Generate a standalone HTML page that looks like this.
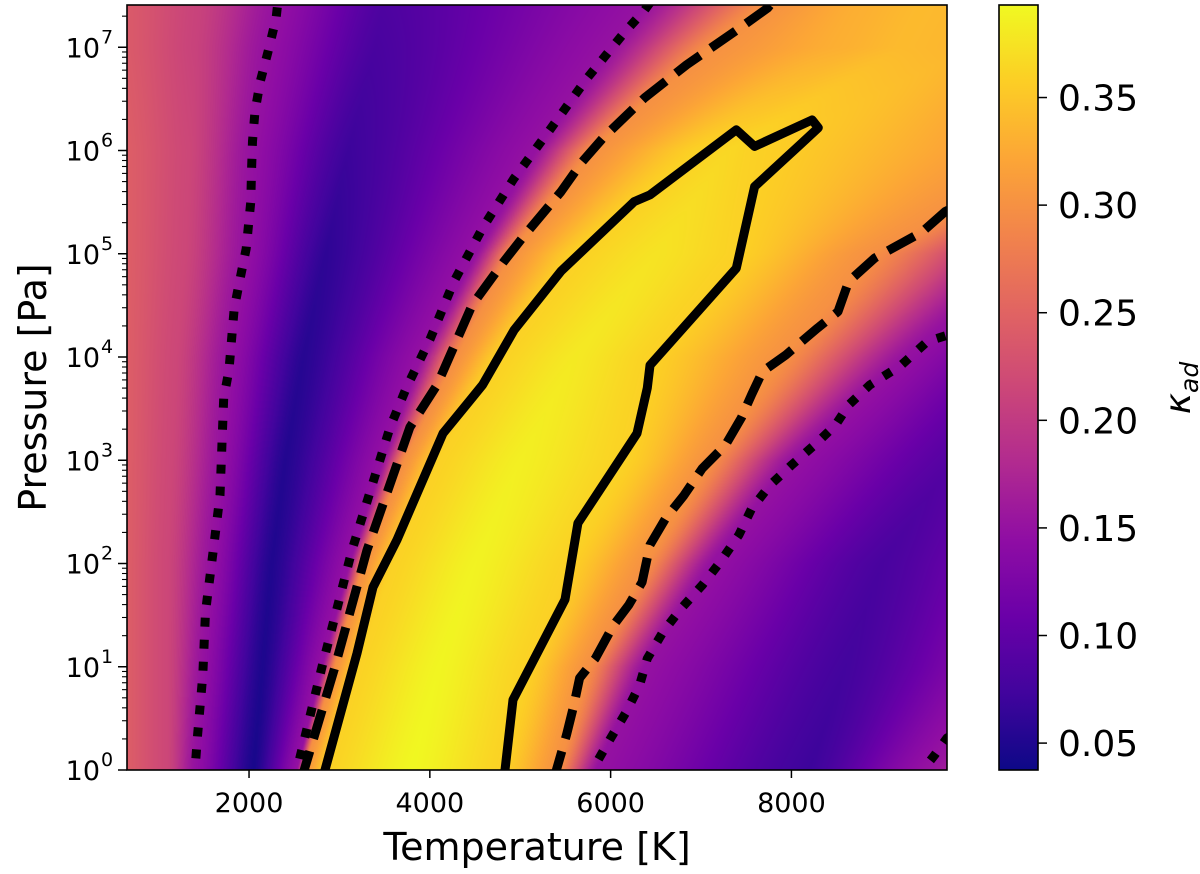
<!DOCTYPE html>
<html>
<head>
<meta charset="utf-8">
<style>
  html,body{margin:0;padding:0;background:#fff;}
  #wrap{position:relative;width:1200px;height:874px;overflow:hidden;font-family:"DejaVu Sans","Liberation Sans",sans-serif;}
  #heat{position:absolute;left:127px;top:5px;}
  #ov{position:absolute;left:0;top:0;}
</style>
</head>
<body>
<div id="wrap">
<canvas id="heat" width="820" height="765"></canvas>
<svg id="ov" width="1200" height="874" xmlns="http://www.w3.org/2000/svg"></svg>
</div>
<script>
// ---- heatmap data: per pressure row, knot temperatures and kappa values ----
const logPRows = [0, 1, 2, 3, 4, 5, 6, 7, 7.5];
const knotT = [
  [600,1100,1400,2050,2530,2610,2848,3800,4815,5422,5840,8200,9470,10000],
  [600,1100,1490,2150,2807,2951,3190,4100,5100,5750,6370,8600,10400,11000],
  [600,1100,1590,2250,3110,3270,3580,4500,5550,6400,7100,9000,11000,12000],
  [600,1150,1700,2400,3480,3720,4080,5000,6200,7100,8000,9800,11500,12500],
  [600,1200,1790,2600,3900,4300,4760,5600,6480,7920,9250,10500,12000,13000],
  [600,1300,1960,2850,4510,4900,5610,6500,7420,8880,10600,11500,12500,13500],
  [600,1350,2035,3100,5170,5800,6930,7300,7590,11000,12000,13000,14000,15000],
  [600,1400,2200,3400,6000,7100,8500,9200,10000,11500,12500,13500,14000,15000],
  [600,1450,2330,3500,6450,7850,8800,9500,10300,11800,12800,13800,14300,15300]
];
const knotV = [
  [.245,.215,.15,.045,.15,.30,.36,.392,.36,.30,.15,.07,.15,.18],
  [.245,.215,.15,.048,.15,.30,.36,.39,.36,.30,.15,.075,.15,.18],
  [.245,.215,.15,.05,.15,.30,.36,.388,.36,.30,.15,.08,.15,.18],
  [.245,.215,.15,.052,.15,.30,.36,.385,.36,.30,.15,.09,.15,.18],
  [.245,.215,.15,.055,.15,.30,.36,.38,.36,.30,.15,.10,.15,.18],
  [.245,.215,.15,.06,.15,.30,.36,.375,.36,.30,.15,.10,.15,.18],
  [.245,.215,.15,.07,.15,.30,.36,.365,.36,.30,.15,.10,.15,.18],
  [.24,.21,.15,.08,.15,.30,.33,.34,.335,.30,.15,.10,.15,.18],
  [.24,.21,.15,.085,.15,.30,.33,.34,.335,.30,.15,.10,.15,.18]
];
// ---- contour data (T [K], log10 P) ----
const solidT = [2820,2840,3194,3371,3637,4146,4444,4584,4931,5450,6261,6435,7390,7593,8229,8297,8113,7593,7390,6435,6406,6292,5638,5495,4920,4831,4820];
const solidP = [-0.1,0,1.13,1.77,2.23,3.26,3.58,3.73,4.26,4.83,5.505,5.57,6.20,6.04,6.296,6.22,6.07,5.65,4.86,3.92,3.70,3.26,2.39,1.65,0.68,0,-0.1];
const dashLT = [2590,2610,2951,3305,3780,4080,4469,4815,5047,5450,5684,5914,6376,6840,7418,7737,7800];
const dashLP = [-0.1,0,1.0,2.13,3.32,3.73,4.505,4.92,5.18,5.60,5.89,6.12,6.51,6.83,7.18,7.38,7.45];
const dashRT = [5380,5400,5512,5594,5657,5830,6030,6202,6348,6435,6610,6810,7013,7272,7445,7562,7680,7939,8288,8515,8633,8923,9443,9703,9800];
const dashRP = [-0.1,0,0.34,0.63,0.89,1.08,1.40,1.60,1.82,2.18,2.44,2.66,2.92,3.15,3.41,3.64,3.86,4.02,4.28,4.44,4.73,4.96,5.21,5.41,5.45];
const dotFarT = [1395,1402,1431,1489,1518,1603,1679,1720,1778,1836,1894,1969,2020,2027,2038,2066,2125,2211,2299,2320];
const dotFarP = [-0.1,0,0.34,0.92,1.53,2.115,2.66,3.60,3.875,4.47,4.73,5.05,5.505,5.80,6.09,6.38,6.67,6.96,7.28,7.45];
const dotInT = [2510,2530,2807,3139,3560,3740,4006,4266,4584,4931,5336,5740,6146,6376,6450];
const dotInP = [-0.1,0,1.0,2.13,3.32,3.70,4.18,4.73,5.25,5.73,6.21,6.70,7.136,7.36,7.45];
const dotRT = [5820,5830,6002,6174,6319,6406,6582,6782,7013,7218,7418,7562,7765,7998,8257,8488,8633,8868,8923,9213,9503,9721,9800];
const dotRP = [-0.1,0.05,0.31,0.565,0.82,1.08,1.34,1.566,1.79,2.02,2.275,2.535,2.76,2.95,3.15,3.34,3.535,3.73,3.76,3.92,4.15,4.21,4.25];
const dotCT = [9460,9472,9585,9721,9800];
const dotCP = [-0.1,0.02,0.145,0.31,0.35];
// ---- ticks ----
const xTicks = [2000, 4000, 6000, 8000];
const xTickLabels = ["2000", "4000", "6000", "8000"];
const yTicks = [0, 1, 2, 3, 4, 5, 6, 7];
const cbTicks = [0.05, 0.10, 0.15, 0.20, 0.25, 0.30, 0.35];
const cbTickLabels = ["0.05", "0.10", "0.15", "0.20", "0.25", "0.30", "0.35"];

// ---- scales ----
const PL = 127, PR = 947, PT = 5, PB = 770;
const TMIN = 650, TMAX = 9721, LPMIN = 0, LPMAX = (PB - PT) / 103.25;
const VMIN = 0.0375, VMAX = 0.393;
function xs(T){ return PL + (T - TMIN) / (TMAX - TMIN) * (PR - PL); }
function ys(lp){ return PB - (lp - LPMIN) / (LPMAX - LPMIN) * (PB - PT); }
const CBL = 999, CBR = 1038;
function cy(v){ return PB - (v - VMIN) / (VMAX - VMIN) * (PB - PT); }

const plasma = ["#0d0887","#41049d","#6a00a8","#8f0da4","#b12a90","#cc4778","#e16462","#f2844b","#fca636","#fcce25","#f0f921"];
const pl = plasma.map(h => [parseInt(h.substr(1,2),16), parseInt(h.substr(3,2),16), parseInt(h.substr(5,2),16)]);
function cmap(t){
  t = Math.max(0, Math.min(1, t));
  const s = t * 10, i = Math.min(9, Math.floor(s)), f = s - i;
  const a = pl[i], b = pl[i+1];
  return [a[0]+(b[0]-a[0])*f, a[1]+(b[1]-a[1])*f, a[2]+(b[2]-a[2])*f];
}

// ---- render heatmap ----
(function(){
  const cv = document.getElementById('heat');
  const ctx = cv.getContext('2d');
  const W = cv.width, H = cv.height;
  const img = ctx.createImageData(W, H);
  const K = knotT[0].length;
  for (let py = 0; py < H; py++){
    const lp = LPMAX - (py + 0.5) / H * (LPMAX - LPMIN);
    let i = 0;
    while (i < logPRows.length - 2 && lp > logPRows[i+1]) i++;
    const f = Math.max(0, Math.min(1, (lp - logPRows[i]) / (logPRows[i+1] - logPRows[i])));
    const kt = [], kv = [];
    for (let k = 0; k < K; k++){
      kt.push(knotT[i][k] + (knotT[i+1][k] - knotT[i][k]) * f);
      kv.push(knotV[i][k] + (knotV[i+1][k] - knotV[i][k]) * f);
    }
    let seg = 0;
    for (let px = 0; px < W; px++){
      const T = TMIN + (px + 0.5) / W * (TMAX - TMIN);
      while (seg < K - 2 && T > kt[seg+1]) seg++;
      let v;
      if (T <= kt[0]) v = kv[0];
      else {
        const g = Math.max(0, Math.min(1, (T - kt[seg]) / (kt[seg+1] - kt[seg])));
        const gg = g * g * (3 - 2 * g) * 0.5 + g * 0.5;
        v = kv[seg] + (kv[seg+1] - kv[seg]) * gg;
      }
      const c = cmap((v - VMIN) / (VMAX - VMIN));
      const o = (py * W + px) * 4;
      img.data[o] = c[0]; img.data[o+1] = c[1]; img.data[o+2] = c[2]; img.data[o+3] = 255;
    }
  }
  ctx.putImageData(img, 0, 0);
})();

// ---- overlay ----
const NS = "http://www.w3.org/2000/svg";
const svg = document.getElementById('ov');
function mk(tag, attrs, parent){
  const e = document.createElementNS(NS, tag);
  for (const k in attrs) e.setAttribute(k, attrs[k]);
  (parent || svg).appendChild(e);
  return e;
}
const defs = mk('defs', {});
const cp = mk('clipPath', {id: 'plotclip'}, defs);
mk('rect', {x: PL, y: PT, width: PR - PL, height: PB - PT}, cp);
const grad = mk('linearGradient', {id: 'cbgrad', x1: 0, y1: 1, x2: 0, y2: 0}, defs);
plasma.forEach((c, i) => mk('stop', {offset: (i * 10) + '%', 'stop-color': c}, grad));

function pathD(Ts, Ps){
  let d = '';
  for (let i = 0; i < Ts.length; i++) d += (i ? 'L' : 'M') + xs(Ts[i]).toFixed(1) + ',' + ys(Ps[i]).toFixed(1);
  return d;
}
const cg = mk('g', {'clip-path': 'url(#plotclip)'});


const contours = [
  ['contour-solid', solidT, solidP, 'none'],
  ['contour-dashed-left', dashLT, dashLP, '30 13'],
  ['contour-dashed-right', dashRT, dashRP, '30 13'],
  ['contour-dotted-far-left', dotFarT, dotFarP, '9 13'],
  ['contour-dotted-inner-left', dotInT, dotInP, '9 13'],
  ['contour-dotted-right', dotRT, dotRP, '9 13'],
  ['contour-dotted-corner', dotCT, dotCP, '9 13']
];
contours.forEach(c => {
  const p = mk('path', {d: pathD(c[1], c[2]), fill: 'none', stroke: '#000', 'stroke-width': 9, 'stroke-linejoin': 'round', 'stroke-linecap': 'butt'}, cg);
  if (c[3] !== 'none') p.setAttribute('stroke-dasharray', c[3]);
  
  
});

// frame
const frame = mk('rect', {x: PL, y: PT, width: PR - PL, height: PB - PT, fill: 'none', stroke: '#000', 'stroke-width': 1.6});



// x ticks
const xg = mk('g', {});


xTicks.forEach((t, i) => {
  const x = xs(t);
  const l = mk('line', {x1: x, y1: PB, x2: x, y2: PB + 8, stroke: '#000', 'stroke-width': 1.5}, xg);
  
  
  const tx = mk('text', {x: x, y: 812, 'text-anchor': 'middle', 'font-size': 27, fill: '#000'}, xg);
  tx.textContent = xTickLabels[i];
  
  
});
const xt = mk('text', {x: (PL + PR) / 2, y: 860, 'text-anchor': 'middle', 'font-size': 38, fill: '#000'});
xt.textContent = 'Temperature [K]';



// y ticks
const yg = mk('g', {});


yTicks.forEach(d => {
  const y = ys(d);
  const l = mk('line', {x1: PL - 9, y1: y, x2: PL, y2: y, stroke: '#000', 'stroke-width': 1.5}, yg);
  
  
  const tx = mk('text', {x: 100, y: y + 10, 'text-anchor': 'end', 'font-size': 27, fill: '#000'}, yg);
  tx.textContent = '10';
  
  
  const sp = mk('text', {x: 101, y: y - 4, 'text-anchor': 'start', 'font-size': 19, fill: '#000'}, yg);
  sp.textContent = String(d);
  
  
  for (let k = 2; k <= 9; k++){
    const lm = d + Math.log10(k);
    if (lm > LPMAX) break;
    const ym = ys(lm);
    const m = mk('line', {x1: PL - 5, y1: ym, x2: PL, y2: ym, stroke: '#000', 'stroke-width': 1.1}, yg);
    
    
  }
});
const yt = mk('text', {x: 0, y: 0, 'text-anchor': 'middle', 'font-size': 38, fill: '#000', transform: 'translate(46,' + ((PT + PB) / 2) + ') rotate(-90)'});
yt.textContent = 'Pressure [Pa]';



// colorbar
const cbg = mk('g', {});


const cbr = mk('rect', {x: CBL, y: PT, width: CBR - CBL, height: PB - PT, fill: 'url(#cbgrad)', stroke: '#000', 'stroke-width': 1.6}, cbg);


cbTicks.forEach((v, i) => {
  const y = cy(v);
  const l = mk('line', {x1: CBR, y1: y, x2: CBR + 9, y2: y, stroke: '#000', 'stroke-width': 1.5}, cbg);
  
  
  const tx = mk('text', {x: 1058, y: y + 13, 'text-anchor': 'start', 'font-size': 36, fill: '#000'}, cbg);
  tx.textContent = cbTickLabels[i];
  
  
});
const cbt = mk('text', {x: 0, y: 0, 'text-anchor': 'middle', 'font-size': 36, 'font-style': 'italic', fill: '#000', transform: 'translate(1190,388) rotate(-90)'}, cbg);


const k1 = mk('tspan', {}, cbt); k1.textContent = 'κ';
const k2 = mk('tspan', {'font-size': 25, dy: 8}, cbt); k2.textContent = 'ad';
</script>
</body>
</html>
